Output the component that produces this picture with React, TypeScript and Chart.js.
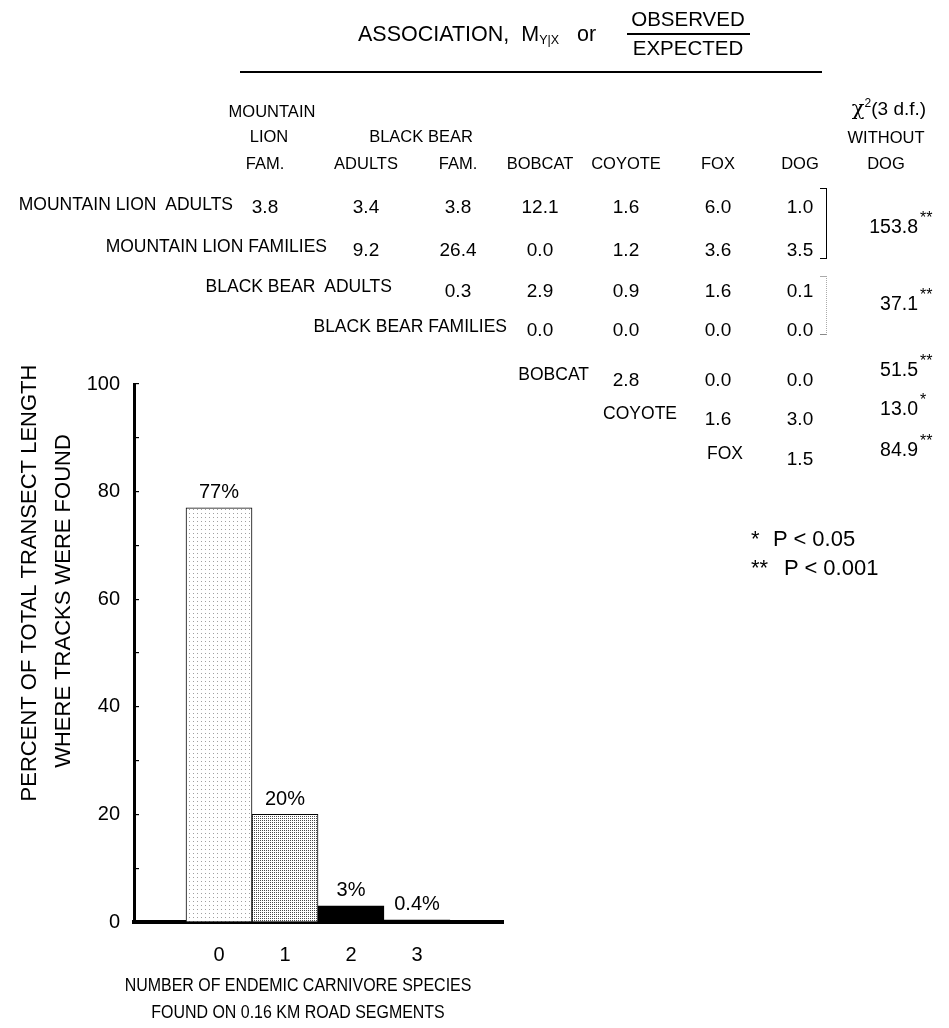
import React, { useEffect, useRef } from 'react';
import { Chart, registerables } from 'chart.js';

Chart.register(...registerables);

const FONT = '"Liberation Sans", Arial, Helvetica, sans-serif';

// ---------- bar chart data ----------
const barCategories = ['0', '1', '2', '3'];
const trackPercents = [77, 20, 3, 0.4];
const percentLabels = ['77%', '20%', '3%', '0.4%'];
const yTitleLines = ['PERCENT OF TOTAL TRANSECT LENGTH', 'WHERE TRACKS WERE FOUND'];
const xTitleLines = ['NUMBER OF ENDEMIC CARNIVORE SPECIES', 'FOUND ON 0.16 KM ROAD SEGMENTS'];

// ---------- association table data ----------
const headerMain = 'ASSOCIATION,';
const headerTop = 'OBSERVED';
const headerBottom = 'EXPECTED';
const columnHeaders = ['FAM.', 'ADULTS', 'FAM.', 'BOBCAT', 'COYOTE', 'FOX', 'DOG'];
const rowLabels = [
  'MOUNTAIN LION\u00a0 ADULTS',
  'MOUNTAIN LION FAMILIES',
  'BLACK BEAR\u00a0 ADULTS',
  'BLACK BEAR FAMILIES',
  'BOBCAT',
  'COYOTE',
  'FOX',
];
const mlAdultsRow = ['3.8', '3.4', '3.8', '12.1', '1.6', '6.0', '1.0'];
const mlFamiliesRow = ['9.2', '26.4', '0.0', '1.2', '3.6', '3.5'];
const bbAdultsRow = ['0.3', '2.9', '0.9', '1.6', '0.1'];
const bbFamiliesRow = ['0.0', '0.0', '0.0', '0.0'];
const bobcatRow = ['2.8', '0.0', '0.0'];
const coyoteRow = ['1.6', '3.0'];
const foxRow = ['1.5'];
const chiSquareValues = ['153.8', '37.1', '51.5', '13.0', '84.9'];
const chiSquareStars = ['**', '**', '**', '*', '**'];
const footnoteStars = ['*', '**'];
const footnoteText = ['P < 0.05', 'P < 0.001'];

const tableRows = [mlAdultsRow, mlFamiliesRow, bbAdultsRow, bbFamiliesRow, bobcatRow, coyoteRow, foxRow];

// ---------- layout (positions only) ----------
const colX = [265, 366, 458, 540, 626, 718, 800];
const rowY = [205, 248, 289, 328, 378, 417, 457];
const rowLabelDy = [0, -1, -2, -1, -3, -3, -3];
const rowLabelRight = [233, 327, 392, 507, 589, 677, 743];
const chiY = [227, 304, 370, 409, 450];
const chiRight = 918;

function makePattern(kind: 'light' | 'medium'): CanvasPattern | string {
  const c = document.createElement('canvas');
  const size = kind === 'light' ? 4 : 2;
  c.width = size;
  c.height = size;
  const g = c.getContext('2d');
  if (!g) return '#ddd';
  g.fillStyle = '#fff';
  g.fillRect(0, 0, size, size);
  if (kind === 'light') {
    g.fillStyle = '#a0a0a0';
    g.fillRect(1, 1, 1, 1);
  } else {
    g.fillStyle = '#4a4a4a';
    g.fillRect(0, 0, 1, 1);
  }
  const p = g.createPattern(c, 'repeat');
  return p || '#ddd';
}

const valueLabelPlugin = {
  id: 'valueLabels',
  afterDatasetsDraw(chart: any) {
    const ctx = chart.ctx;
    const meta = chart.getDatasetMeta(0);
    ctx.save();
    ctx.font = `20px ${FONT}`;
    ctx.fillStyle = '#000';
    ctx.textAlign = 'center';
    ctx.textBaseline = 'middle';
    meta.data.forEach((el: any, i: number) => {
      ctx.fillText(percentLabels[i], el.x, el.y - 15);
    });
    ctx.restore();
  },
};

const axisTitlePlugin = {
  id: 'axisTitles',
  afterDraw(chart: any) {
    const ctx = chart.ctx;
    const { left, bottom, top } = chart.chartArea;
    ctx.save();
    ctx.fillStyle = '#000';
    ctx.textAlign = 'center';
    ctx.textBaseline = 'middle';
    ctx.font = `22px ${FONT}`;
    const yCenters = [top + 199, top + 217];
    const xOffs = [left - 104, left - 70];
    yTitleLines.forEach((t, i) => {
      ctx.save();
      ctx.translate(xOffs[i], yCenters[i]);
      ctx.rotate(-Math.PI / 2);
      ctx.fillText(t, 0, 0);
      ctx.restore();
    });
    ctx.font = `19px ${FONT}`;
    const xc = left + 164;
    [bottom + 64, bottom + 91].forEach((y, i) => {
      ctx.save();
      ctx.translate(xc, y);
      ctx.scale(0.84, 1);
      ctx.fillText(xTitleLines[i], 0, 0);
      ctx.restore();
    });
    ctx.restore();
  },
};

function BarChart() {
  const ref = useRef<HTMLCanvasElement | null>(null);
  useEffect(() => {
    if (!ref.current) return;
    const light = makePattern('light');
    const medium = makePattern('medium');
    const chart = new Chart(ref.current, {
      type: 'bar',
      data: {
        datasets: [
          {
            data: barCategories.map((c, i) => ({ x: Number(c), y: trackPercents[i] })),
            backgroundColor: [light, medium, '#000', '#000'] as any,
            borderColor: '#000',
            borderWidth: 1,
            barThickness: 66,
          },
        ],
      },
      options: {
        animation: false,
        responsive: true,
        maintainAspectRatio: false,
        layout: { padding: { left: 0, top: 384, right: 446, bottom: 0 } },
        plugins: { legend: { display: false }, tooltip: { enabled: false } },
        scales: {
          x: {
            type: 'linear',
            offset: false,
            min: -1.288,
            max: 4.303,
            grid: { display: false, drawTicks: false, offset: false },
            border: { display: true, color: '#000', width: 4 },
            afterBuildTicks: (scale: any) => {
              scale.ticks = barCategories.map((c) => ({ value: Number(c) }));
            },
            afterFit: (scale: any) => {
              scale.height = 106;
            },
            ticks: {
              color: '#000',
              font: { family: FONT, size: 20 },
              padding: 21,
              autoSkip: false,
              maxRotation: 0,
              callback: (v: any) => String(v),
            },
          },
          y: {
            min: 0,
            max: 100,
            grid: { drawOnChartArea: false, drawTicks: true, tickLength: -5, color: '#000', lineWidth: 1.2 },
            border: { display: true, color: '#000', width: 3 },
            afterFit: (scale: any) => {
              scale.width = 134;
            },
            ticks: {
              stepSize: 10,
              color: '#000',
              font: { family: FONT, size: 20 },
              padding: 19,
              callback: (v: any) => (Number(v) % 20 === 0 ? String(v) : ''),
            },
          },
        },
      },
      plugins: [valueLabelPlugin, axisTitlePlugin],
    });
    return () => chart.destroy();
  }, []);
  return <canvas ref={ref} style={{ display: 'block' }} />;
}

type TProps = {
  x: number;
  y: number;
  align?: 'left' | 'center' | 'right';
  size?: number;
  children: React.ReactNode;
};

function T({ x, y, align = 'center', size = 16, children }: TProps) {
  const tx = align === 'left' ? '0' : align === 'center' ? '-50%' : '-100%';
  return (
    <span
      style={{
        position: 'absolute',
        left: x,
        top: y,
        transform: `translate(${tx}, -50%)`,
        fontSize: size,
        lineHeight: 1,
        whiteSpace: 'nowrap',
        fontFamily: FONT,
        color: '#000',
      }}
    >
      {children}
    </span>
  );
}

function Line({ x1, x2, y, w = 1, color = '#000' }: { x1: number; x2: number; y: number; w?: number; color?: string }) {
  return (
    <div style={{ position: 'absolute', left: x1, top: y - w / 2, width: x2 - x1, height: w, background: color }} />
  );
}

export default function App() {
  return (
    <div
      style={{
        position: 'absolute',
        left: 0,
        top: 0,
        width: 949,
        height: 1028,
        background: '#fff',
        overflow: 'hidden',
      }}
    >
      <div style={{ position: 'absolute', left: 0, top: 0, width: 949, height: 1028 }}>
        <BarChart />
      </div>
      <div style={{ position: 'absolute', left: 0, top: 0, width: 949, height: 1028, pointerEvents: 'none' }}>
        {/* header */}
        <T x={358} y={35} align="left" size={21.5}>
          {headerMain}&nbsp; M
          <span style={{ fontSize: 12.5, verticalAlign: -3 }}>Y|X</span>
          &nbsp;&nbsp; or
        </T>
        <T x={688} y={19} size={20.5}>{headerTop}</T>
        <Line x1={627} x2={750} y={34} w={1.2} />
        <T x={688} y={48} size={20.5}>{headerBottom}</T>
        <Line x1={240} x2={822} y={72} w={1.5} />

        {/* column headers */}
        <T x={272} y={111} size={16.5}>MOUNTAIN</T>
        <T x={269} y={136} size={16.5}>LION</T>
        <T x={421} y={136} size={16.5}>BLACK BEAR</T>
        {columnHeaders.map((h, i) => (
          <T key={'ch' + i} x={colX[i]} y={163} size={16.5}>
            {h}
          </T>
        ))}
        <T x={889} y={108} size={19}>
          <span style={{ fontFamily: '"DejaVu Serif", serif', fontSize: 21 }}>χ</span>
          <sup style={{ fontSize: 12 }}>2</sup>(3 d.f.)
        </T>
        <T x={886} y={137} size={16.5}>WITHOUT</T>
        <T x={886} y={163} size={16.5}>DOG</T>

        {/* rows */}
        {rowLabels.map((lab, r) => (
          <T key={'rl' + r} x={rowLabelRight[r]} y={rowY[r] + rowLabelDy[r]} align="right" size={17.5}>
            {lab}
          </T>
        ))}
        {tableRows.map((vals, r) =>
          vals.map((v, j) => (
            <T key={`v${r}-${j}`} x={colX[r + j]} y={rowY[r] + 1} size={19}>
              {v}
            </T>
          )),
        )}

        {/* brackets */}
        <div
          style={{
            position: 'absolute',
            left: 820,
            top: 188,
            width: 6,
            height: 69,
            borderTop: '1px solid #000',
            borderRight: '1.5px solid #000',
            borderBottom: '1px solid #000',
          }}
        />
        <div
          style={{
            position: 'absolute',
            left: 820,
            top: 276,
            width: 6,
            height: 57,
            borderTop: '1px solid #aaa',
            borderRight: '1px dotted #aaa',
            borderBottom: '1px solid #888',
          }}
        />

        {/* chi-square */}
        {chiSquareValues.map((v, i) => (
          <React.Fragment key={'chi' + i}>
            <T x={chiRight} y={chiY[i]} align="right" size={19.5}>
              {v}
            </T>
            <T x={chiRight + 2} y={chiY[i] - 9} align="left" size={16}>
              {chiSquareStars[i]}
            </T>
          </React.Fragment>
        ))}

        {/* footnotes */}
        {footnoteText.map((t, i) => (
          <React.Fragment key={'fn' + i}>
            <T x={751} y={539 + i * 29} align="left" size={22}>
              {footnoteStars[i]}
            </T>
            <T x={i === 0 ? 773 : 784} y={539 + i * 29} align="left" size={22}>
              {t}
            </T>
          </React.Fragment>
        ))}
      </div>
    </div>
  );
}
